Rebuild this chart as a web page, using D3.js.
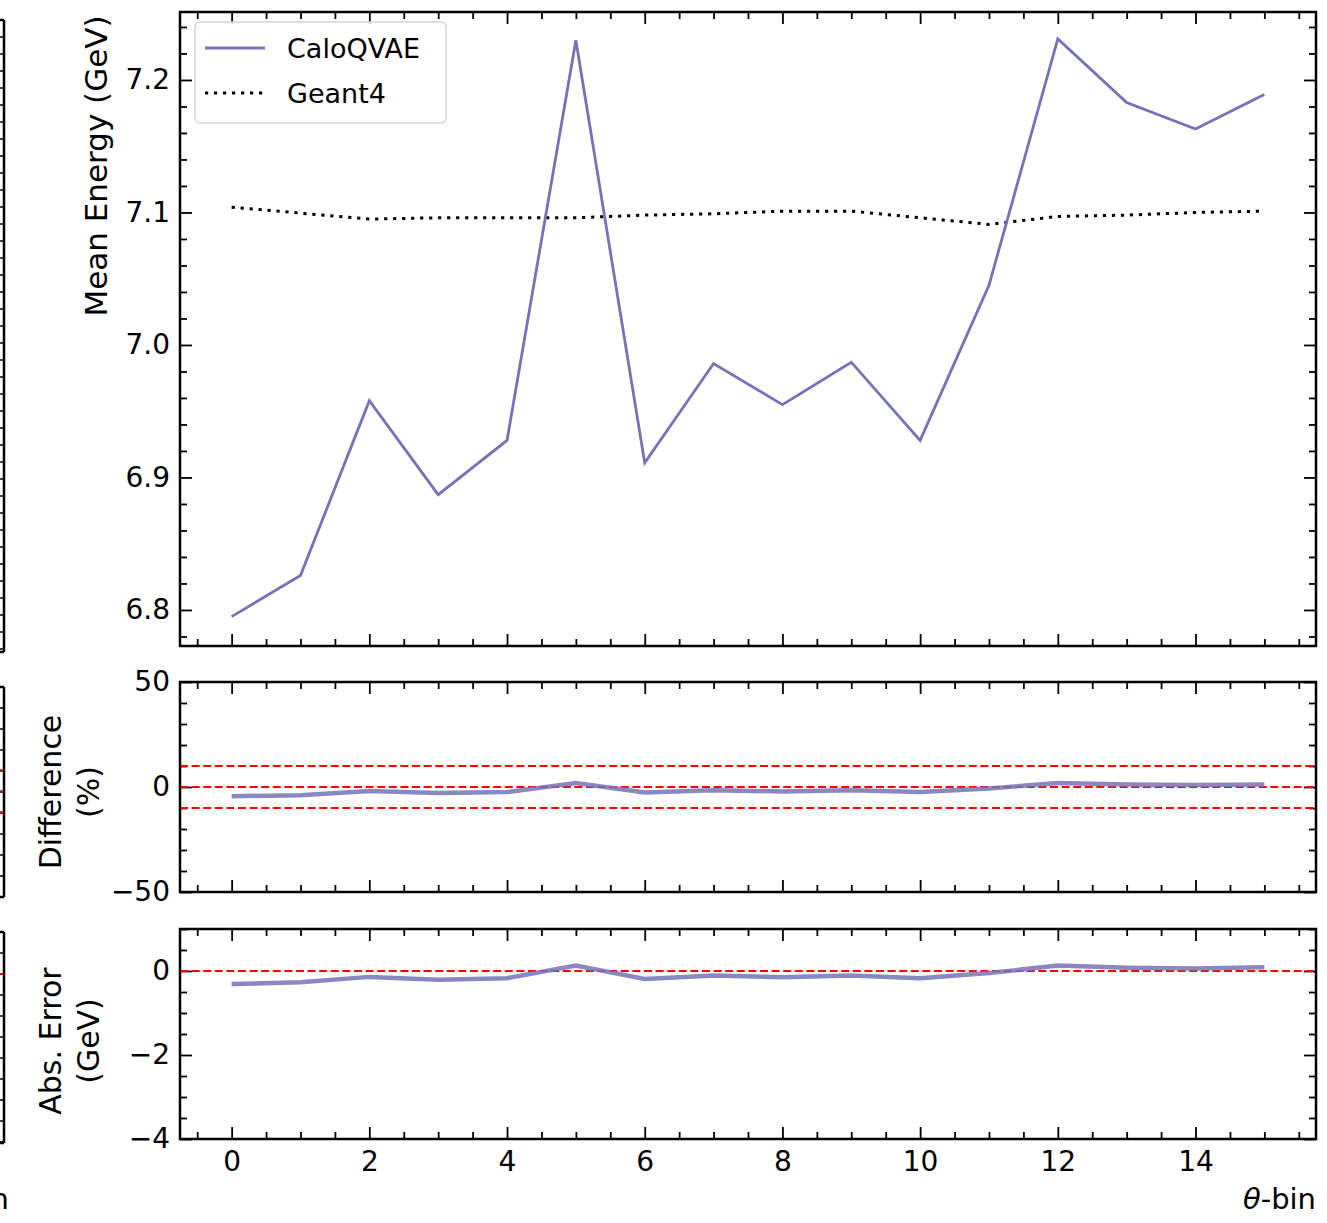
<!DOCTYPE html>
<html>
<head>
<meta charset="utf-8">
<script src="https://cdn.jsdelivr.net/npm/d3@7"></script>
<style>
  body { margin: 0; background: #fff; }
  text { font-family: "DejaVu Sans", sans-serif; fill: #000; }
</style>
</head>
<body>
<svg id="chart" width="1327" height="1223"></svg>
<script>
// theta bins
const bins = d3.range(0, 16);
const xTickLabels = [0, 2, 4, 6, 8, 10, 12, 14];

// mean energy (GeV) per theta bin
const caloQVAE = [6.795, 6.826, 6.958, 6.887, 6.928, 7.230, 6.911, 6.986,
                  6.955, 6.987, 6.928, 7.045, 7.231, 7.183, 7.163, 7.189];
const geant4 = [7.104, 7.0995, 7.095, 7.096, 7.096, 7.096, 7.098, 7.099,
                7.101, 7.101, 7.096, 7.091, 7.097, 7.098, 7.100, 7.101];

// relative difference (%) and absolute error (GeV)
const diffPct = [-4.4, -3.9, -1.9, -2.9, -2.4, 1.9, -2.6, -1.6,
                 -2.1, -1.6, -2.4, -0.7, 1.9, 1.2, 0.9, 1.2];
const absErr = [-0.31, -0.27, -0.14, -0.21, -0.17, 0.13, -0.19, -0.11,
                -0.15, -0.11, -0.17, -0.05, 0.13, 0.08, 0.06, 0.09];

const energyTicks = [6.8, 6.9, 7.0, 7.1, 7.2];
const diffTicks = [-50, 0, 50];
const diffRefLines = [-10, 0, 10];
const errTicks = [-4, -2, 0];
const errRefLines = [0];

const purple = "#7672b8";
const svg = d3.select("#chart");

const left = 180, right = 1316;
const x = d3.scaleLinear().domain([-0.75, 15.75]).range([left, right]);
const xMinor = d3.range(-0.5, 15.75, 0.5).filter(v => v % 2 !== 0);

const panels = [
  { top: 12, bottom: 646, domain: [6.7728, 7.2513], major: energyTicks,
    minor: d3.range(6.78, 7.25, 0.02).filter(v => Math.abs(v * 10 - Math.round(v * 10)) > 0.01),
    fmt: d3.format(".1f") },
  { top: 682, bottom: 892, domain: [-50, 50], major: diffTicks,
    minor: d3.range(-40, 50, 10).filter(v => v !== 0), fmt: d3.format("d") },
  { top: 929, bottom: 1139, domain: [-4, 1], major: errTicks,
    minor: d3.range(-3.5, 1.01, 0.5).filter(v => v % 2 !== 0), fmt: d3.format("d") }
];

panels.forEach((p, i) => {
  p.y = d3.scaleLinear().domain(p.domain).range([p.bottom, p.top]);
  const g = svg.append("g");
  const h = p.bottom - p.top, w = right - left;

  // y axes (left labelled, right ticks only), ticks inward
  g.append("g").attr("transform", `translate(${left},0)`)
    .call(d3.axisLeft(p.y).tickValues(p.major).tickSize(-12).tickPadding(10).tickFormat(p.fmt));
  g.append("g").attr("transform", `translate(${left},0)`)
    .call(d3.axisLeft(p.y).tickValues(p.minor).tickSize(-7).tickFormat(""));
  g.append("g").attr("transform", `translate(${right},0)`)
    .call(d3.axisRight(p.y).tickValues(p.major).tickSize(-12).tickFormat(""));
  g.append("g").attr("transform", `translate(${right},0)`)
    .call(d3.axisRight(p.y).tickValues(p.minor).tickSize(-7).tickFormat(""));

  // x axes top and bottom
  g.append("g").attr("transform", `translate(0,${p.bottom})`)
    .call(d3.axisBottom(x).tickValues(xTickLabels).tickSize(-12).tickPadding(12)
      .tickFormat(i === 2 ? d3.format("d") : ""));
  g.append("g").attr("transform", `translate(0,${p.bottom})`)
    .call(d3.axisBottom(x).tickValues(xMinor).tickSize(-7).tickFormat(""));
  g.append("g").attr("transform", `translate(0,${p.top})`)
    .call(d3.axisTop(x).tickValues(xTickLabels).tickSize(-12).tickFormat(""));
  g.append("g").attr("transform", `translate(0,${p.top})`)
    .call(d3.axisTop(x).tickValues(xMinor).tickSize(-7).tickFormat(""));

  g.selectAll(".domain").remove();
  g.selectAll(".tick line").attr("stroke", "#000").attr("stroke-width", 1.8);
  g.selectAll(".tick text").style("font-size", "28px").attr("fill", "#000");

  p.g = g;
  p.frame = () => g.append("rect").attr("x", left).attr("y", p.top)
    .attr("width", w).attr("height", h)
    .attr("fill", "none").attr("stroke", "#000").attr("stroke-width", 2.5);
});

// top panel lines
const P0 = panels[0];
P0.g.append("path").datum(geant4)
  .attr("fill", "none").attr("stroke", "#000").attr("stroke-width", 3)
  .attr("stroke-dasharray", "3.2,5.8")
  .attr("d", d3.line().x((d, i) => x(bins[i])).y(d => P0.y(d)));
P0.g.append("path").datum(caloQVAE)
  .attr("fill", "none").attr("stroke", purple).attr("stroke-width", 2.8)
  .attr("d", d3.line().x((d, i) => x(bins[i])).y(d => P0.y(d)));
P0.frame();

// difference panel
const P1 = panels[1];
P1.g.selectAll(".ref").data(diffRefLines).join("line")
  .attr("x1", left).attr("x2", right)
  .attr("y1", d => P1.y(d)).attr("y2", d => P1.y(d))
  .attr("stroke", "#ff0000").attr("stroke-width", 1.8).attr("stroke-dasharray", "8,3.6");
P1.g.append("path").datum(diffPct)
  .attr("fill", "none").attr("stroke", purple).attr("stroke-width", 4.5).attr("opacity", 0.85)
  .attr("d", d3.line().x((d, i) => x(bins[i])).y(d => P1.y(d)));
P1.frame();

// abs error panel
const P2 = panels[2];
P2.g.selectAll(".ref").data(errRefLines).join("line")
  .attr("x1", left).attr("x2", right)
  .attr("y1", d => P2.y(d)).attr("y2", d => P2.y(d))
  .attr("stroke", "#ff0000").attr("stroke-width", 1.8).attr("stroke-dasharray", "8,3.6");
P2.g.append("path").datum(absErr)
  .attr("fill", "none").attr("stroke", purple).attr("stroke-width", 4.5).attr("opacity", 0.85)
  .attr("d", d3.line().x((d, i) => x(bins[i])).y(d => P2.y(d)));
P2.frame();

// axis labels
svg.append("text").attr("transform", "translate(107,166) rotate(-90)")
  .attr("text-anchor", "middle").style("font-size", "31px").text("Mean Energy (GeV)");
svg.append("text").attr("transform", "translate(61,792) rotate(-90)")
  .attr("text-anchor", "middle").style("font-size", "30px").text("Difference");
svg.append("text").attr("transform", "translate(99,792) rotate(-90)")
  .attr("text-anchor", "middle").style("font-size", "30px").text("(%)");
svg.append("text").attr("transform", "translate(61,1041) rotate(-90)")
  .attr("text-anchor", "middle").style("font-size", "30px").text("Abs. Error");
svg.append("text").attr("transform", "translate(99,1041) rotate(-90)")
  .attr("text-anchor", "middle").style("font-size", "30px").text("(GeV)");
svg.append("text").attr("x", right).attr("y", 1209).attr("text-anchor", "end")
  .style("font-size", "29px").html('<tspan font-style="italic">θ</tspan>-bin');

// legend
const lg = svg.append("g");
lg.append("rect").attr("x", 195).attr("y", 22).attr("width", 251).attr("height", 101)
  .attr("rx", 5).attr("fill", "#fff").attr("fill-opacity", 0.8)
  .attr("stroke", "#d6d6d6").attr("stroke-width", 1.5);
lg.append("line").attr("x1", 205).attr("x2", 265).attr("y1", 48).attr("y2", 48)
  .attr("stroke", purple).attr("stroke-width", 2.8);
lg.append("line").attr("x1", 205).attr("x2", 265).attr("y1", 93).attr("y2", 93)
  .attr("stroke", "#000").attr("stroke-width", 3).attr("stroke-dasharray", "3.2,5.8");
lg.append("text").attr("x", 287).attr("y", 58).style("font-size", "27px").text("CaloQVAE");
lg.append("text").attr("x", 287).attr("y", 103).style("font-size", "27px").text("Geant4");

// neighbouring subplot edge, cut off at the left of the figure
const stub = svg.append("g");
[[20, 652, [], 17], [687, 897, [770, 791, 812], 21], [932, 1143, [974], 21]].forEach(([t, b, reds, step]) => {
  stub.append("line").attr("x1", 4).attr("x2", 4).attr("y1", t).attr("y2", b)
    .attr("stroke", "#000").attr("stroke-width", 2.5);
  stub.append("line").attr("x1", 0).attr("x2", 4).attr("y1", t).attr("y2", t)
    .attr("stroke", "#000").attr("stroke-width", 2.5);
  stub.append("line").attr("x1", 0).attr("x2", 4).attr("y1", b).attr("y2", b)
    .attr("stroke", "#000").attr("stroke-width", 2.5);
  d3.range(t + step, b, step).forEach(v => stub.append("line")
    .attr("x1", 0).attr("x2", 4).attr("y1", v).attr("y2", v)
    .attr("stroke", "#000").attr("stroke-width", 1.5));
  reds.forEach(v => stub.append("line").attr("x1", 0).attr("x2", 3).attr("y1", v).attr("y2", v)
    .attr("stroke", "red").attr("stroke-width", 1.6));
});
svg.append("text").attr("x", 9).attr("y", 1209).attr("text-anchor", "end")
  .style("font-size", "29px").text("n");
</script>
</body>
</html>
